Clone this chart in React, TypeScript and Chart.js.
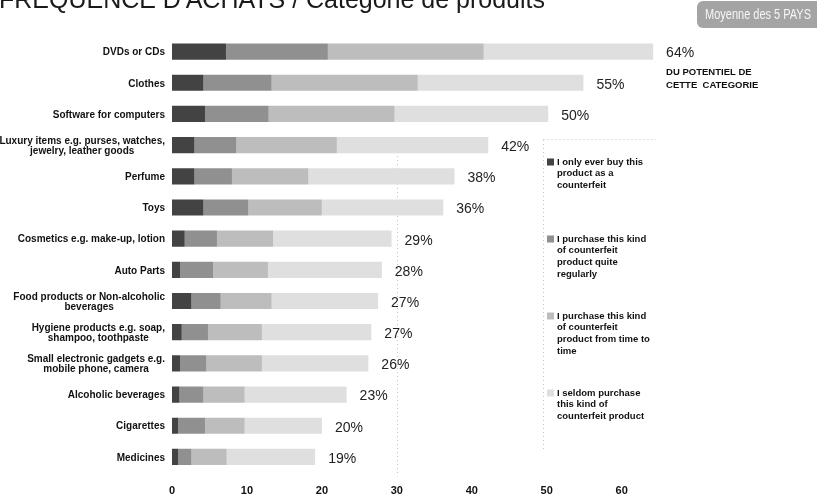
import React, { useEffect, useRef } from "react";
import { Chart, registerables } from "chart.js";

Chart.register(...registerables);

// ---------- DATA ----------
const categories: (string | string[])[] = [
  "DVDs or CDs",
  "Clothes",
  "Software for computers",
  ["Luxury items e.g. purses, watches,", "jewelry, leather goods"],
  "Perfume",
  "Toys",
  "Cosmetics e.g. make-up, lotion",
  "Auto Parts",
  ["Food products or Non-alcoholic", "beverages"],
  ["Hygiene products e.g. soap,", "shampoo, toothpaste"],
  ["Small electronic gadgets e.g.", "mobile phone, camera"],
  "Alcoholic beverages",
  "Cigarettes",
  "Medicines",
];

const onlyCounterfeit = [7.2, 4.2, 4.4, 3.0, 3.0, 4.2, 1.7, 1.1, 2.6, 1.3, 1.1, 1.0, 0.8, 0.8];
const quiteRegularly = [13.6, 9.1, 8.5, 5.6, 5.0, 6.0, 4.3, 4.4, 3.9, 3.5, 3.5, 3.2, 3.6, 1.8];
const timeToTime = [20.8, 19.5, 16.8, 13.4, 10.2, 9.8, 7.5, 7.3, 6.8, 7.2, 7.4, 5.5, 5.3, 4.7];
const seldom = [22.6, 22.1, 20.5, 20.2, 19.5, 16.2, 15.8, 15.2, 14.2, 14.6, 14.2, 13.6, 10.3, 11.8];

const totalLabels = ["64%", "55%", "50%", "42%", "38%", "36%", "29%", "28%", "27%", "27%", "26%", "23%", "20%", "19%"];

const seriesNames = [
  "I only ever buy this product as a counterfeit",
  "I purchase this kind of counterfeit product quite regularly",
  "I purchase this kind of counterfeit product from time to time",
  "I seldom purchase this kind of counterfeit product",
];
const legendLines: string[][] = [
  ["I only ever buy this", "product as a", "counterfeit"],
  ["I purchase this kind", "of counterfeit", "product quite", "regularly"],
  ["I purchase this kind", "of counterfeit", "product from time to", "time"],
  ["I seldom purchase", "this kind of", "counterfeit product"],
];

const xTicks = [0, 10, 20, 30, 40, 50, 60];
const gridLineValues = [30];

const titleText = "FREQUENCE D'ACHATS / Catégorie de produits";
const badgeText = "Moyenne des 5 PAYS";
const noteLines = ["DU POTENTIEL DE", "CETTE  CATEGORIE"];

// ---------- STYLE ----------
const FONT = "'Liberation Sans', Arial, Helvetica, sans-serif";
const colors = ["#434343", "#909090", "#bdbdbd", "#dfdfdf"];

const overlayPlugin = {
  id: "overlay",
  beforeDatasetsDraw(chart: any) {
    const { ctx, chartArea, scales } = chart;
    const xs = scales.x;
    ctx.save();
    ctx.strokeStyle = "#c4c4c4";
    ctx.lineWidth = 1;
    ctx.setLineDash([1, 3]);
    gridLineValues.forEach((v) => {
      const px = Math.round(xs.getPixelForValue(v)) + 0.5;
      ctx.beginPath();
      ctx.moveTo(px, 140);
      ctx.lineTo(px, chartArea.bottom + 4);
      ctx.stroke();
    });
    // legend box dotted frame
    ctx.beginPath();
    ctx.moveTo(543.5, 140);
    ctx.lineTo(543.5, 450);
    ctx.moveTo(543.5, 139.5);
    ctx.lineTo(656, 139.5);
    ctx.stroke();
    ctx.restore();
  },
  afterDraw(chart: any) {
    const { ctx, chartArea, scales } = chart;
    const xs = scales.x;
    const ys = scales.y;
    ctx.save();

    // category labels (block right-aligned, lines centered)
    ctx.font = `bold 10px ${FONT}`;
    ctx.fillStyle = "#111";
    ctx.textBaseline = "middle";
    ctx.textAlign = "center";
    categories.forEach((cat, i) => {
      const lines = Array.isArray(cat) ? cat : [cat];
      const w = Math.max(...lines.map((l) => ctx.measureText(l).width));
      const cx = chartArea.left - 7 - w / 2;
      const cy = ys.getPixelForValue(i) + 1;
      const lh = 10.5;
      lines.forEach((l, k) => ctx.fillText(l, cx, cy + (k - (lines.length - 1) / 2) * lh));
    });

    // total labels
    ctx.font = `14px ${FONT}`;
    ctx.fillStyle = "#222";
    ctx.textAlign = "left";
    let firstLabelX = 0;
    categories.forEach((_, i) => {
      const total = onlyCounterfeit[i] + quiteRegularly[i] + timeToTime[i] + seldom[i];
      const px = xs.getPixelForValue(total) + 13;
      if (i === 0) firstLabelX = px;
      ctx.fillText(totalLabels[i], px, ys.getPixelForValue(i) + 2);
    });

    // note under first label
    ctx.font = `bold 9.5px ${FONT}`;
    ctx.fillStyle = "#111";
    noteLines.forEach((l, k) => ctx.fillText(l, firstLabelX, 72 + k * 13));

    // legend
    ctx.font = `bold 9.5px ${FONT}`;
    legendLines.forEach((lines, k) => {
      const y0 = 162 + k * 77;
      ctx.fillStyle = colors[k];
      ctx.fillRect(547, y0 - 3.5, 7, 7);
      ctx.fillStyle = "#111";
      lines.forEach((l, j) => ctx.fillText(l, 557, y0 + j * 11.8));
    });

    // title (cut at top)
    ctx.font = `25px ${FONT}`;
    ctx.fillStyle = "#1a1a1a";
    ctx.textBaseline = "alphabetic";
    ctx.fillText(titleText, -1, 8, 546);

    // badge
    ctx.fillStyle = "#a4a4a4";
    ctx.beginPath();
    (ctx as any).roundRect(697, 1, 125, 27, 6);
    ctx.fill();
    ctx.font = `15px ${FONT}`;
    ctx.fillStyle = "#f6f6f6";
    ctx.textAlign = "center";
    ctx.textBaseline = "middle";
    ctx.fillText(badgeText, 758, 15, 106);

    ctx.restore();
  },
};

export default function App() {
  const ref = useRef<HTMLCanvasElement>(null);
  useEffect(() => {
    if (!ref.current) return;
    const seriesData = [onlyCounterfeit, quiteRegularly, timeToTime, seldom];
    const chart = new Chart(ref.current, {
      type: "bar",
      data: {
        labels: categories.map((c) => (Array.isArray(c) ? c.join(" ") : c)),
        datasets: seriesData.map((d, k) => ({
          label: seriesNames[k],
          data: d,
          backgroundColor: colors[k],
          borderWidth: 0,
          barPercentage: 0.52,
          categoryPercentage: 1,
        })),
      },
      options: {
        indexAxis: "y",
        responsive: false,
        animation: false,
        layout: { padding: { left: 172, right: 8, top: 36, bottom: 0 } },
        plugins: { legend: { display: false }, tooltip: { enabled: false } },
        scales: {
          x: {
            stacked: true,
            min: 0,
            max: 85,
            grid: { display: false, drawTicks: false },
            border: { display: false },
            afterBuildTicks: (axis: any) => {
              axis.ticks = xTicks.map((v) => ({ value: v }));
            },
            afterFit: (axis: any) => {
              axis.height = 25.5;
            },
            ticks: {
              padding: 12,
              color: "#111",
              font: { family: FONT, size: 11, weight: "bold" },
            },
          },
          y: {
            stacked: true,
            grid: { display: false, drawTicks: false },
            border: { display: false },
            ticks: { display: false },
          },
        },
      },
      plugins: [overlayPlugin],
    } as any);
    return () => chart.destroy();
  }, []);
  return (
    <div style={{ position: "absolute", left: 0, top: 0, width: 817, height: 498, background: "#fff" }}>
      <canvas ref={ref} width={817} height={498} />
    </div>
  );
}
